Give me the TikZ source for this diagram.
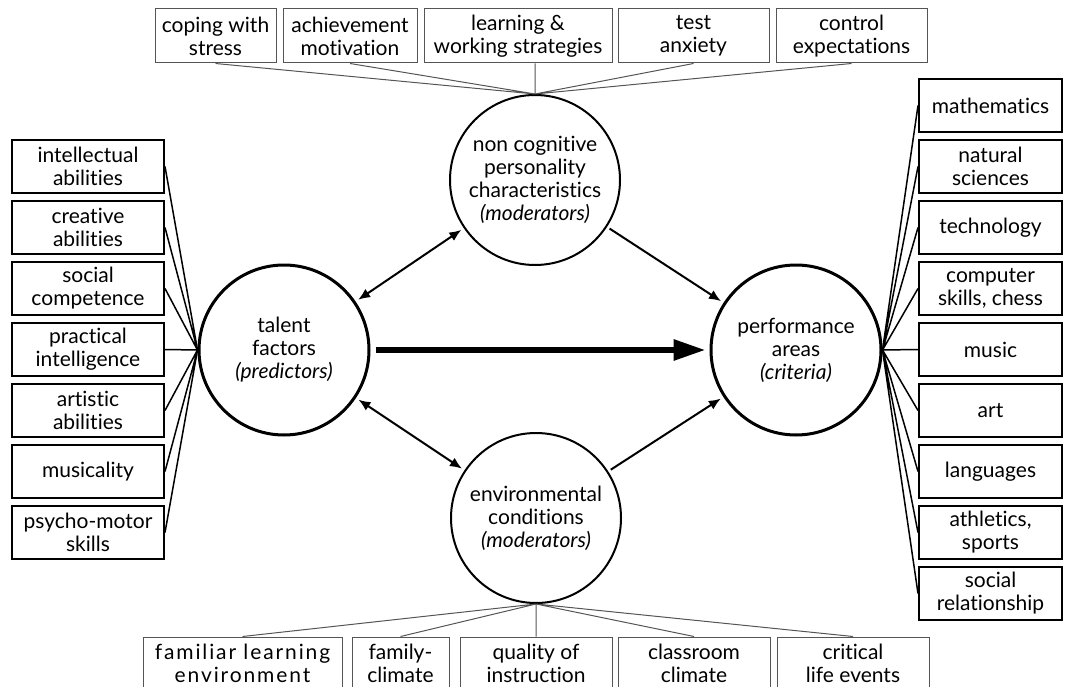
\documentclass[tikz,border=0pt]{standalone}
\usepackage{fontspec}
\setmainfont{Lato}[Ligatures=NoCommon]
\newfontfamily\widefont[LetterSpace=9,Ligatures=NoCommon]{Lato}
\usepackage{tikz}
\usetikzlibrary{arrows.meta}
\definecolor{linegray}{RGB}{85,85,85}

\begin{document}
\begin{tikzpicture}[x=1pt, y=-1pt, font=\fontsize{21}{23}\selectfont,
    hub/.style = {draw=black, circle, line width=2pt, minimum size=170pt, inner sep=0pt, align=center},
    major/.style = {hub, line width=3pt},
    side/.style = {draw=black, line width=2pt, minimum height=53pt, inner sep=0pt, align=center},
    leftbox/.style = {side, minimum width=152pt},
    rightbox/.style = {side, minimum width=143pt},
    mod/.style = {draw=linegray, line width=1pt, minimum height=54pt, inner sep=0pt, align=center},
    spoke/.style = {draw=black, line width=1.5pt},
    modline/.style = {draw=linegray, line width=1pt},
    link/.style = {line width=2pt, shorten <=3pt, shorten >=3pt, {Latex[length=12pt,width=10pt]}-{Latex[length=12pt,width=10pt]}}]
    \useasboundingbox (0,0) rectangle (1065,687);

    \node[major] (tal) at (284,350) {talent\\factors\\\textit{(predictors)}};
    \node[major] (perf) at (796,350) {performance\\areas\\\textit{(criteria)}};
    \node[hub] (nc) at (535,180) {non cognitive\\personality\\characteristics\\\textit{(moderators)}};
    \node[hub] (env) at (536,518) {environmental\\conditions\\\textit{(moderators)}};

    \node[mod, minimum width=121pt] (t1) at (215.5,36) {coping with\\stress};
    \node[mod, minimum width=134pt] (t2) at (350,36) {achievement\\motivation};
    \node[mod, minimum width=188pt] (t3) at (518,36) {learning \&\\working strategies};
    \node[mod, minimum width=151pt] (t4) at (693.5,36) {test\\anxiety};
    \node[mod, minimum width=151pt] (t5) at (851.5,36) {control\\expectations};

    \node[mod, minimum width=199pt, minimum height=52pt, font=\widefont\fontsize{21}{23}\selectfont] (b1) at (242.5,663) {familiar learning\\environment};
    \node[mod, minimum width=97pt, minimum height=52pt] (b2) at (400.5,663) {family-\\climate};
    \node[mod, minimum width=152pt, minimum height=52pt] (b3) at (536,663) {quality of\\instruction};
    \node[mod, minimum width=152pt, minimum height=52pt] (b4) at (694,663) {classroom\\climate};
    \node[mod, minimum width=152pt, minimum height=52pt] (b5) at (853,663) {critical\\life events};

    \node[leftbox] (l1) at (88,166.5) {intellectual\\abilities};
    \node[leftbox] (l2) at (88,227.5) {creative\\abilities};
    \node[leftbox] (l3) at (88,288.5) {social\\competence};
    \node[leftbox] (l4) at (88,349.5) {practical\\intelligence};
    \node[leftbox] (l5) at (88,410.5) {artistic\\abilities};
    \node[leftbox] (l6) at (88,471.5) {musicality};
    \node[leftbox] (l7) at (88,532.5) {psycho-motor\\skills};

    \node[rightbox] (r1) at (990.5,105.5) {mathematics};
    \node[rightbox] (r2) at (990.5,166.5) {natural\\sciences};
    \node[rightbox] (r3) at (990.5,227.5) {technology};
    \node[rightbox] (r4) at (990.5,288.5) {computer\\skills, chess};
    \node[rightbox] (r5) at (990.5,349.5) {music};
    \node[rightbox] (r6) at (990.5,410.5) {art};
    \node[rightbox] (r7) at (990.5,471.5) {languages};
    \node[rightbox] (r8) at (990.5,532.5) {athletics,\\sports};
    \node[rightbox] (r9) at (990.5,593.5) {social\\relationship};

    % spokes into the four hubs
    \draw[spoke] (l1.east) -- (tal.west) (l2.east) -- (tal.west) (l3.east) -- (tal.west)
        (l4.east) -- (tal.west) (l5.east) -- (tal.west) (l6.east) -- (tal.west) (l7.east) -- (tal.west);
    \draw[spoke] (r1.west) -- (perf.east) (r2.west) -- (perf.east) (r3.west) -- (perf.east)
        (r4.west) -- (perf.east) (r5.west) -- (perf.east) (r6.west) -- (perf.east)
        (r7.west) -- (perf.east) (r8.west) -- (perf.east) (r9.west) -- (perf.east);
    \draw[modline] (t1.south) -- (nc.north) (t2.south) -- (nc.north) (t3.south -| nc.north) -- (nc.north)
        (t4.south) -- (nc.north) (t5.south) -- (nc.north);
    \draw[modline] (b1.north) -- (env.south) (b2.north) -- (env.south) (b3.north -| env.south) -- (env.south)
        (b4.north) -- (env.south) (b5.north) -- (env.south);

    % arrows between hubs
    \draw[link] (tal) -- (nc);
    \draw[link] (tal) -- (env);
    \draw[link, -{Latex[length=12pt,width=10pt]}] (nc) -- (perf);
    \draw[link, -{Latex[length=12pt,width=10pt]}] (env) -- (perf);
    \draw[line width=6pt, shorten <=5pt, shorten >=4pt, -{Triangle[length=32pt,width=20pt]}] (tal) -- (perf);
\end{tikzpicture}
\end{document}
